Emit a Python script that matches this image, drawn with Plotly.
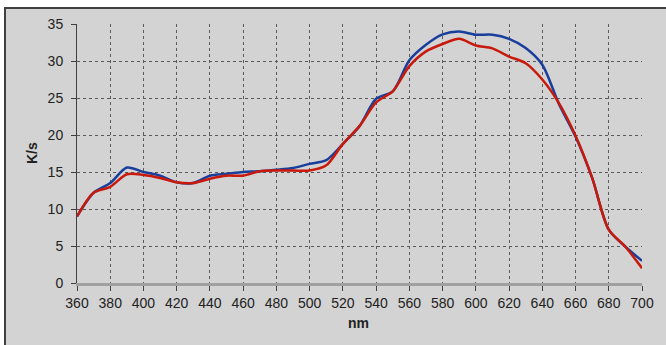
import plotly.graph_objects as go

# Wavelength grid (nm) and the two K/S spectra
wavelength_nm = [360, 370, 380, 390, 400, 410, 420, 430, 440, 450, 460, 470,
                 480, 490, 500, 510, 520, 530, 540, 550, 560, 570, 580, 590,
                 600, 610, 620, 630, 640, 650, 660, 670, 680, 690, 700]

ks_blue = [9.0, 12.2, 13.5, 15.6, 15.0, 14.5, 13.6, 13.5, 14.5, 14.75, 15.0, 15.1,
           15.3, 15.55, 16.1, 16.6, 18.8, 21.2, 24.9, 25.9, 30.1, 32.2, 33.6, 34.0,
           33.55, 33.55, 33.0, 31.75, 29.5, 24.2, 19.8, 14.2, 7.2, 4.9, 3.0]

ks_red = [9.0, 12.2, 13.0, 14.7, 14.6, 14.2, 13.6, 13.5, 14.1, 14.5, 14.5, 15.1,
          15.2, 15.2, 15.2, 15.9, 18.8, 21.2, 24.4, 25.9, 29.3, 31.3, 32.3, 33.0,
          32.1, 31.7, 30.6, 29.7, 27.5, 24.3, 19.9, 14.2, 7.2, 4.9, 2.0]

x_ticks = list(range(360, 701, 20))
y_ticks = list(range(0, 36, 5))

W, H = 666, 345
ML, MR, MT, MB = 77, 24, 24, 62
PW, PH = W - ML - MR, H - MT - MB


def px_x(p):
    return (p - ML) / PW


def px_y(p):
    return (H - MB - p) / PH


fig = go.Figure()
fig.add_trace(go.Scatter(x=wavelength_nm, y=ks_blue, mode="lines",
                         line=dict(color="#1A3E9C", width=2.5, shape="spline", smoothing=0.8),
                         showlegend=False))
fig.add_trace(go.Scatter(x=wavelength_nm, y=ks_red, mode="lines",
                         line=dict(color="#C8190B", width=2.5, shape="spline", smoothing=0.8),
                         showlegend=False))

axis_font = dict(family="Liberation Sans, Arial, sans-serif", size=14, color="#222222")

fig.update_layout(
    width=W, height=H,
    margin=dict(l=ML, r=MR, t=MT, b=MB, pad=0),
    paper_bgcolor="white",
    plot_bgcolor="rgba(0,0,0,0)",
    font=axis_font,
    shapes=[dict(type="rect", xref="paper", yref="paper",
                 x0=px_x(5), x1=px_x(W + 10), y0=px_y(H + 10), y1=px_y(8),
                 fillcolor="#D3D3D3", line=dict(color="#404040", width=2),
                 layer="below")],
    annotations=[
        dict(text="<b>nm</b>", xref="paper", yref="paper",
             x=px_x(358), y=px_y(323), xanchor="center", yanchor="middle",
             showarrow=False, font=dict(size=14, color="#222222")),
        dict(text="<b>K/s</b>", xref="paper", yref="paper",
             x=px_x(32), y=px_y(153), xanchor="center", yanchor="middle",
             textangle=-90, showarrow=False, font=dict(size=14, color="#222222")),
    ],
)

fig.update_xaxes(range=[360, 700], tickvals=x_ticks, ticktext=[str(v) for v in x_ticks],
                 showgrid=True, gridcolor="#5A5A5A", griddash="dot", gridwidth=1,
                 showline=True, linecolor="#A0A0A0", linewidth=3,
                 ticks="outside", ticklen=5, tickcolor="#404040",
                 zeroline=False, fixedrange=True)
fig.update_yaxes(range=[0, 35], tickvals=y_ticks, ticktext=[str(v) for v in y_ticks],
                 showgrid=True, gridcolor="#5A5A5A", griddash="dot", gridwidth=1,
                 showline=True, linecolor="#404040", linewidth=1,
                 ticks="outside", ticklen=5, tickcolor="#404040",
                 zeroline=False, fixedrange=True, ticklabelstandoff=5)

fig.write_html("out.html")
